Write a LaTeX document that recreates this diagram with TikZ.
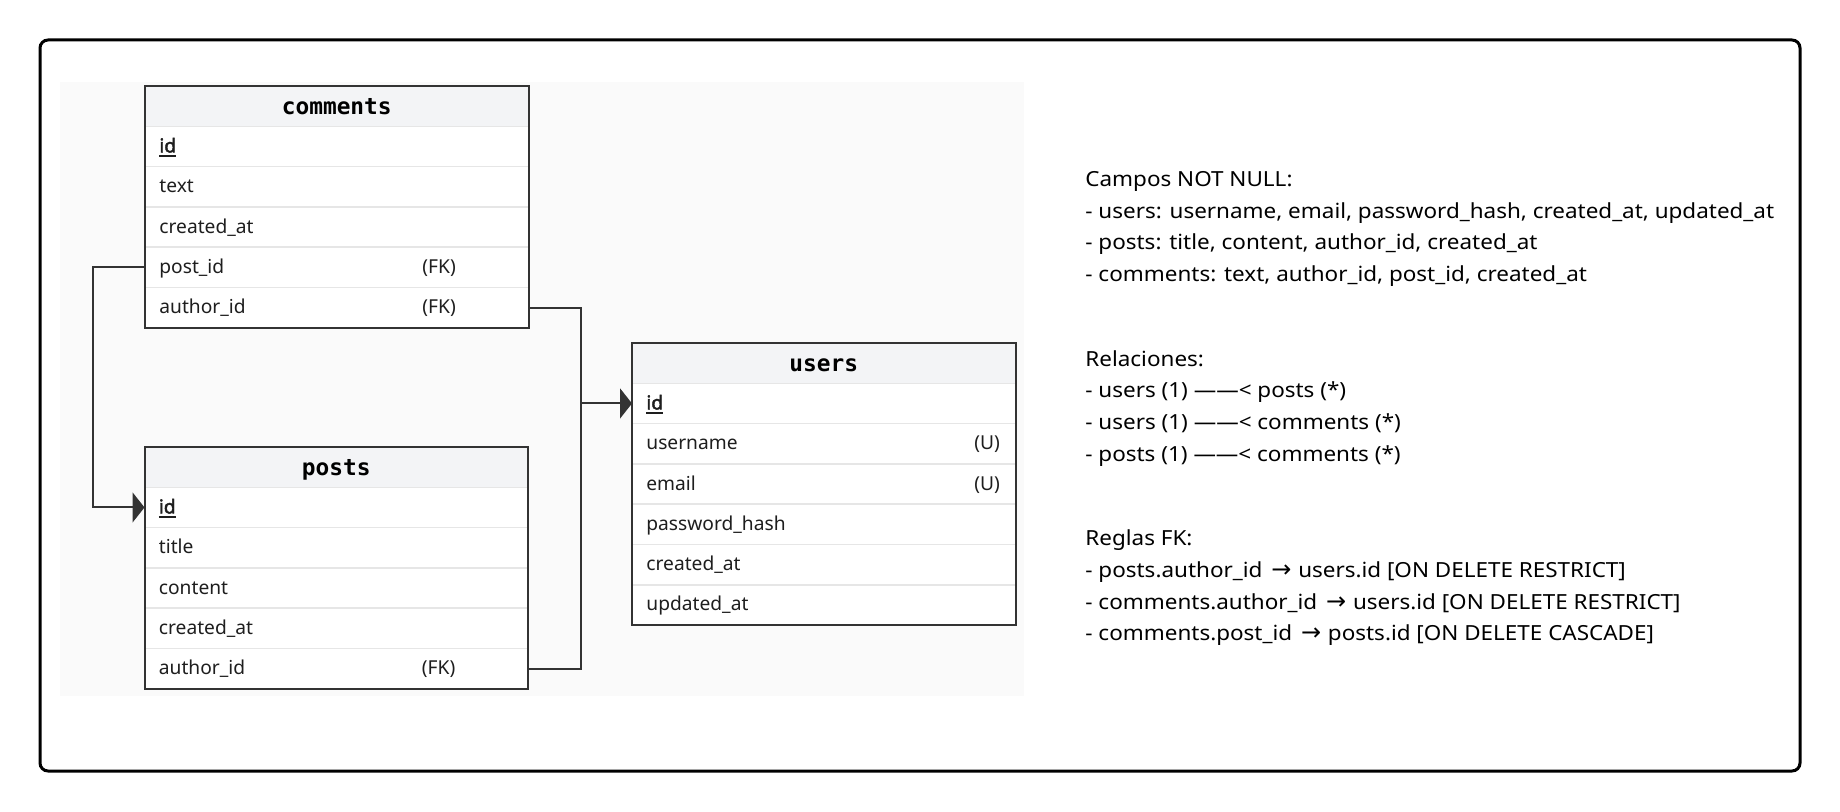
\documentclass[tikz,border=0pt]{standalone}
\usepackage{fontspec}
\setmainfont{Noto Sans}
\newfontfamily\notefont{Noto Sans}[FakeStretch=1.08]
\newfontfamily\pkfont{Noto Sans}[FakeBold=2.2]
\newfontfamily\hdrfont{DejaVu Sans Mono}
\newfontfamily\arrfont{DejaVu Sans}
\usetikzlibrary{arrows.meta,calc,fit}
\definecolor{edge}{HTML}{333333}
\definecolor{sepc}{HTML}{E6E6E6}
\definecolor{hdrfill}{HTML}{F3F4F6}
\definecolor{panel}{HTML}{FAFAFA}
\definecolor{txt}{HTML}{1E1E1E}
\newcommand\pkmark[1]{\setbox0\hbox{#1}\rlap{\rule[-2.2pt]{\wd0}{0.9pt}}\box0}
\newcommand\arr{\kern1.5pt{\arrfont\fontsize{12}{12}\selectfont →}\kern0.5pt}
\begin{document}
\begin{tikzpicture}[x=0.5pt,y=-0.5pt,
  hdrbox/.style={anchor=north west, fill=hdrfill, draw=none, minimum width=191.75pt, minimum height=20.15pt, inner sep=0pt, outer sep=0pt},
  rowbox/.style={anchor=north west, fill=white, draw=none, minimum width=191.75pt, minimum height=20.15pt, inner sep=0pt, outer sep=0pt},
  hdrtext/.style={anchor=base, inner sep=0pt, text=black, font=\hdrfont\bfseries\fontsize{11.4}{13}\selectfont},
  fldtext/.style={anchor=base west, inner sep=0pt, text=txt, font=\fontsize{9.6}{11}\selectfont},
  sepline/.style={draw=sepc, line width=0.75pt},
  tblborder/.style={draw=edge, line width=1pt, inner sep=0pt, outer sep=0pt, fill=none},
  fk/.style={draw=edge, line width=1pt, -{Triangle[length=6pt,width=15pt]}},
  fkline/.style={draw=edge, line width=1pt},
  note/.style={anchor=base west, inner sep=0pt, text=black, font=\notefont\fontsize{10.4}{12}\selectfont}
]
\useasboundingbox (0,0) rectangle (1840,812);
\fill[white] (0,0) rectangle (1840,812);
\fill[panel] (60,82) rectangle (1024,696);
\draw[line width=1.5pt, rounded corners=4pt] (40,40) rectangle (1800,771);

% ---------- comments ----------
\node[hdrbox] (c-h) at (145,86) {};
\node[rowbox] (c-r1) at (c-h.south west) {};
\node[rowbox] (c-r2) at (c-r1.south west) {};
\node[rowbox] (c-r3) at (c-r2.south west) {};
\node[rowbox] (c-r4) at (c-r3.south west) {};
\node[rowbox] (c-r5) at (c-r4.south west) {};
\foreach \r in {c-r1,c-r2,c-r3,c-r4,c-r5} \draw[sepline] (\r.north west) -- (\r.north east);
\node[hdrtext] (c-ht) at ($(c-h.center)+(0,8.5)$) {comments};
\node[fldtext] (c-t1) at ($(c-r1.west)+(14,6)$) {\pkmark{\pkfont id}};
\node[fldtext] (c-t2) at ($(c-r2.west)+(14,6)$) {text};
\node[fldtext] (c-t3) at ($(c-r3.west)+(14,6)$) {created\_at};
\node[fldtext] (c-t4) at ($(c-r4.west)+(14,6)$) {post\_id};
\node[fldtext] (c-k4) at ($(c-r4.west)+(277,6)$) {(FK)};
\node[fldtext] (c-t5) at ($(c-r5.west)+(14,6)$) {author\_id};
\node[fldtext] (c-k5) at ($(c-r5.west)+(277,6)$) {(FK)};
\node[tblborder, fit=(c-h)(c-r5)] (comments) {};

% ---------- posts ----------
\node[hdrbox] (p-h) at (144.5,447) {};
\node[rowbox] (p-r1) at (p-h.south west) {};
\node[rowbox] (p-r2) at (p-r1.south west) {};
\node[rowbox] (p-r3) at (p-r2.south west) {};
\node[rowbox] (p-r4) at (p-r3.south west) {};
\node[rowbox] (p-r5) at (p-r4.south west) {};
\foreach \r in {p-r1,p-r2,p-r3,p-r4,p-r5} \draw[sepline] (\r.north west) -- (\r.north east);
\node[hdrtext] (p-ht) at ($(p-h.center)+(0,8.5)$) {posts};
\node[fldtext] (p-t1) at ($(p-r1.west)+(14,6)$) {\pkmark{\pkfont id}};
\node[fldtext] (p-t2) at ($(p-r2.west)+(14,6)$) {title};
\node[fldtext] (p-t3) at ($(p-r3.west)+(14,6)$) {content};
\node[fldtext] (p-t4) at ($(p-r4.west)+(14,6)$) {created\_at};
\node[fldtext] (p-t5) at ($(p-r5.west)+(14,6)$) {author\_id};
\node[fldtext] (p-k5) at ($(p-r5.west)+(277,6)$) {(FK)};
\node[tblborder, fit=(p-h)(p-r5)] (posts) {};

% ---------- users ----------
\node[hdrbox] (u-h) at (632,343) {};
\node[rowbox] (u-r1) at (u-h.south west) {};
\node[rowbox] (u-r2) at (u-r1.south west) {};
\node[rowbox] (u-r3) at (u-r2.south west) {};
\node[rowbox] (u-r4) at (u-r3.south west) {};
\node[rowbox] (u-r5) at (u-r4.south west) {};
\node[rowbox] (u-r6) at (u-r5.south west) {};
\foreach \r in {u-r1,u-r2,u-r3,u-r4,u-r5,u-r6} \draw[sepline] (\r.north west) -- (\r.north east);
\node[hdrtext] (u-ht) at ($(u-h.center)+(0,8.5)$) {users};
\node[fldtext] (u-t1) at ($(u-r1.west)+(14,6)$) {\pkmark{\pkfont id}};
\node[fldtext] (u-t2) at ($(u-r2.west)+(14,6)$) {username};
\node[fldtext] (u-k2) at ($(u-r2.west)+(342,6)$) {(U)};
\node[fldtext] (u-t3) at ($(u-r3.west)+(14,6)$) {email};
\node[fldtext] (u-k3) at ($(u-r3.west)+(342,6)$) {(U)};
\node[fldtext] (u-t4) at ($(u-r4.west)+(14,6)$) {password\_hash};
\node[fldtext] (u-t5) at ($(u-r5.west)+(14,6)$) {created\_at};
\node[fldtext] (u-t6) at ($(u-r6.west)+(14,6)$) {updated\_at};
\node[tblborder, fit=(u-h)(u-r6)] (users) {};

% ---------- connectors ----------
\coordinate (j1) at (93,0);
\coordinate (j2) at (580.5,0);
\draw[fk] (c-r4.west) -- (c-r4.west -| j1) -- (p-r1.west -| j1) -- (p-r1.west);
\draw[fkline] (c-r5.east) -- (c-r5.east -| j2) -- (u-r1.west -| j2);
\draw[fk] (p-r5.east) -- (p-r5.east -| j2) -- (u-r1.west -| j2) -- (u-r1.west);

% ---------- notes ----------
\node[note] (n1) at (1085,186.5) {Campos NOT NULL:};
\node[note] (n2) at (1085,218.2) {- users: username, email, password\_hash, created\_at, updated\_at};
\node[note] (n3) at (1085,249.9) {- posts: title, content, author\_id, created\_at};
\node[note] (n4) at (1085,281.6) {- comments: text, author\_id, post\_id, created\_at};
\node[note] (n5) at (1085,366.1) {Relaciones:};
\node[note] (n6) at (1085,397.8) {- users (1) ——< posts (*)};
\node[note] (n7) at (1085,429.5) {- users (1) ——< comments (*)};
\node[note] (n8) at (1085,461.2) {- posts (1) ——< comments (*)};
\node[note] (n9) at (1085,545.6) {Reglas FK:};
\node[note] (n10) at (1085,577.3) {- posts.author\_id \arr{} users.id [ON DELETE RESTRICT]};
\node[note] (n11) at (1085,609) {- comments.author\_id \arr{} users.id [ON DELETE RESTRICT]};
\node[note] (n12) at (1085,640.7) {- comments.post\_id \arr{} posts.id [ON DELETE CASCADE]};
\end{tikzpicture}
\end{document}
